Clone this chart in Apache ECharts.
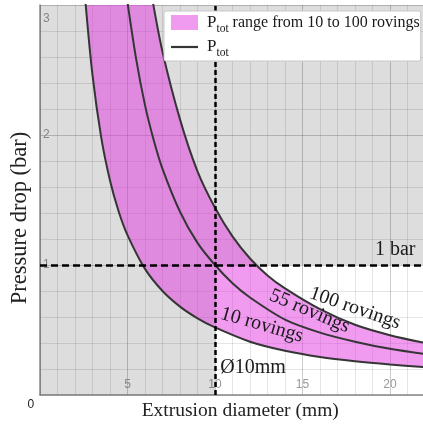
<!DOCTYPE html>
<html><head><meta charset="utf-8">
<script src="https://cdn.jsdelivr.net/npm/echarts@6/dist/echarts.min.js"></script>
<style>html,body{margin:0;padding:0;background:#fff}#c{width:423px;height:429px}</style>
</head><body><div id="c"></div>
<script>
// ---- data ----
const d10  = [2.6, 3, 3.5, 4, 4.5, 5, 6, 7, 8, 9, 10, 12, 14, 16, 18, 20, 22];
const p10  = [3.02, 2.46, 1.98, 1.65, 1.41, 1.23, 0.97, 0.80, 0.68, 0.59, 0.52, 0.41, 0.34, 0.292, 0.259, 0.234, 0.214];
const d55  = [5, 5.5, 6, 6.5, 7, 8, 9, 10, 11, 12, 14, 16, 18, 20, 22];
const p55  = [3.02, 2.58, 2.23, 1.96, 1.74, 1.41, 1.17, 1.0, 0.86, 0.75, 0.58, 0.48, 0.41, 0.355, 0.315];
const d100 = [6.4, 7, 8, 9, 10, 11, 12, 13, 14, 16, 18, 20, 22];
const p100 = [3.06, 2.64, 2.12, 1.72, 1.44, 1.22, 1.05, 0.92, 0.82, 0.66, 0.54, 0.46, 0.40];
const curveNames = ['10 rovings', '55 rovings', '100 rovings'];
const curveLabelAt = [[12.68, 0.538], [15.4, 0.645], [18.0, 0.667]];
const curveLabelRotate = [-16, -23, -19];
const limitDiameter = 10;   // Ø10mm
const limitPressure = 1;    // 1 bar
const xMin = 0, xMax = 25, xStep = 5;
const yMin = 0, yMax = 3, yStep = 1;
const legendBand = 'P_tot range from 10 to 100 rovings';
const legendLine = 'P_tot';

// ---- styles ----
const SERIF = 'Liberation Serif';
const SANS = 'Liberation Sans';
const bandColor = 'rgba(225,55,225,0.5)';
const curveColor = '#353535';
const shadeColor = 'rgba(0,0,0,0.135)';
const pxPerX = 17.5;

function zip(xs, ys) { return xs.map((x, i) => [x, ys[i]]); }

// same control-point rule as ECharts smooth lines
function smoothSeg(pts, s) {
  const n = pts.length, out = [], inn = [];
  for (let i = 0; i < n; i++) {
    const p = pts[i], prev = pts[Math.max(i - 1, 0)], next = pts[Math.min(i + 1, n - 1)];
    const vx = next[0] - prev[0], vy = next[1] - prev[1];
    const l0 = Math.hypot(p[0] - prev[0], p[1] - prev[1]);
    const l1 = Math.hypot(next[0] - p[0], next[1] - p[1]);
    const r = (l0 + l1) ? l1 / (l0 + l1) : 0.5;
    out[i] = [p[0] + vx * s * r, p[1] + vy * s * r];
    inn[i] = [p[0] - vx * s * (1 - r), p[1] - vy * s * (1 - r)];
  }
  let d = '';
  for (let i = 0; i < n - 1; i++) {
    d += 'C' + out[i].join(',') + ' ' + inn[i + 1].join(',') + ' ' + pts[i + 1].join(',');
  }
  return d;
}
const SM = 0.3;

const chart = echarts.init(document.getElementById('c'), null, { renderer: 'canvas' });

const curveData = [zip(d10, p10), zip(d55, p55), zip(d100, p100)];
const curveSeries = curveData.map((data, k) => ({
  type: 'line', name: legendLine, data: data, smooth: SM, symbol: 'none', showSymbol: false,
  z: 4, silent: true, clip: true,
  lineStyle: { color: curveColor, width: 2 },
  itemStyle: { color: curveColor },
  markPoint: {
    silent: true, symbol: 'circle', symbolSize: 1,
    itemStyle: { color: 'rgba(0,0,0,0)' },
    label: {
      show: true, position: 'inside', rotate: curveLabelRotate[k],
      fontFamily: SERIF, fontSize: 20, color: '#1a1a1a',
      formatter: () => curveNames[k]
    },
    data: [{ coord: curveLabelAt[k] }]
  }
}));

function richName(name) {
  const parts = name.split('_');
  const rest = parts[1].split(' ');
  const sub = rest.shift();
  const tail = rest.length ? ' ' + rest.join(' ') : '';
  return '{p|' + parts[0] + '}{s|' + sub + '}' + (tail ? '{t|' + tail + '}' : '');
}

const option = {
  animation: false,
  backgroundColor: '#fff',
  grid: {
    left: 40, right: 383 - (xMax - xMin) * pxPerX, top: 5, bottom: 34,
    containLabel: false, outerBoundsMode: 'none'
  },
  xAxis: {
    type: 'value', min: xMin, max: xMax, interval: xStep, z: 0,
    name: 'Extrusion diameter (mm)', nameLocation: 'middle', nameGap: 6,
    nameTextStyle: { fontFamily: SERIF, fontSize: 19.5, color: '#222', padding: [0, 37, 0, 0] },
    axisLine: { show: true, lineStyle: { color: '#888', width: 1.5 } },
    axisTick: { show: false },
    axisLabel: { inside: true, margin: 4, showMinLabel: false, fontFamily: SANS, fontSize: 12, color: '#9a9a9a' },
    splitLine: { show: true, lineStyle: { color: 'rgba(0,0,0,0.2)', width: 1 } },
    minorTick: { show: false, splitNumber: 5 },
    minorSplitLine: { show: true, lineStyle: { color: 'rgba(0,0,0,0.1)', width: 1 } }
  },
  yAxis: {
    type: 'value', min: yMin, max: yMax, interval: yStep, z: 0,
    name: 'Pressure drop (bar)', nameLocation: 'middle', nameRotate: 90, nameGap: 8,
    nameTextStyle: { fontFamily: SERIF, fontSize: 22.5, color: '#222', padding: [0, 36, 0, 0] },
    axisLine: { show: true, lineStyle: { color: '#888', width: 1.5 } },
    axisTick: { show: false },
    axisLabel: {
      inside: true, margin: 3, showMinLabel: false, align: 'left',
      fontFamily: SANS, fontSize: 12, color: '#9a9a9a',
      formatter: v => v === yMax ? '{top|' + v + '}' : String(v),
      rich: { top: { padding: [27, 0, 0, 0], fontFamily: SANS, fontSize: 12, color: '#9a9a9a' } }
    },
    splitLine: { show: true, lineStyle: { color: 'rgba(0,0,0,0.2)', width: 1 } },
    minorTick: { show: false, splitNumber: 5 },
    minorSplitLine: { show: true, lineStyle: { color: 'rgba(0,0,0,0.1)', width: 1 } }
  },
  legend: {
    orient: 'vertical', left: 164, top: 11, z: 10,
    backgroundColor: '#fff', borderColor: '#c8c8c8', borderWidth: 1, borderRadius: 2,
    padding: [3, 1, 2, 7], itemWidth: 27, itemHeight: 15, itemGap: 4,
    selectedMode: false,
    data: [
      { name: legendBand, icon: 'rect', itemStyle: { color: bandColor } },
      { name: legendLine, icon: 'path://M0,0H27V2.2H0Z', itemStyle: { color: curveColor } }
    ],
    formatter: name => richName(name),
    textStyle: {
      fontFamily: SERIF, fontSize: 16, color: '#1a1a1a', padding: [0, 0, 0, 4],
      rich: {
        p: { fontFamily: SERIF, fontSize: 17, color: '#1a1a1a' },
        s: { fontFamily: SERIF, fontSize: 11.5, color: '#1a1a1a', padding: [12, 0, 0, 0] },
        t: { fontFamily: SERIF, fontSize: 16, color: '#1a1a1a' }
      }
    }
  },
  graphic: [{
    type: 'text', left: 27.5, top: 399,
    style: { text: '0', font: '12px "Liberation Sans"', fill: '#222' }
  }],
  series: [
    {
      type: 'line', name: 'guides', data: [], z: 1, silent: true,
      markLine: {
        silent: true, symbol: ['none', 'none'], label: { show: false },
        lineStyle: { color: '#000', width: 2.5 },
        data: [
          { yAxis: limitPressure, lineStyle: { type: [7, 4], color: '#000', width: 2.5 } },
          { xAxis: limitDiameter, lineStyle: { type: [5, 3], color: '#000', width: 2.5 } }
        ]
      },
      markPoint: {
        silent: true, symbol: 'circle', symbolSize: 1, itemStyle: { color: 'rgba(0,0,0,0)' },
        label: { show: true, position: 'inside', fontFamily: SERIF, fontSize: 20, color: '#1a1a1a' },
        data: [
          { coord: [20.3, 1.115], label: { formatter: limitPressure + ' bar' } },
          { coord: [12.18, 0.21], label: { formatter: 'Ø' + limitDiameter + 'mm' } }
        ]
      }
    },
    {
      type: 'custom', name: legendBand, z: 2, clip: true, silent: true,
      itemStyle: { color: bandColor },
      data: [[0, 0]],
      renderItem: (params, api) => {
        const lo = d10.map((x, i) => api.coord([x, p10[i]]));
        const hi = d100.map((x, i) => api.coord([x, p100[i]])).reverse();
        const path = 'M' + lo[0].join(',') + smoothSeg(lo, SM) + 'L' + hi[0].join(',') + smoothSeg(hi, SM) + 'Z';
        const cs = params.coordSys;
        return {
          type: 'group',
          children: [{ type: 'path', shape: { pathData: path }, style: { fill: bandColor } }],
          clipPath: { type: 'rect', shape: { x: cs.x, y: cs.y, width: cs.width, height: cs.height } }
        };
      }
    },
    {
      type: 'line', name: 'shade', data: [], z: 3, silent: true,
      markArea: {
        silent: true, itemStyle: { color: shadeColor }, label: { show: false },
        data: [
          [{ coord: [xMin, limitPressure] }, { coord: [xMax, yMax] }],
          [{ coord: [xMin, yMin] }, { coord: [limitDiameter, limitPressure] }]
        ]
      }
    }
  ].concat(curveSeries)
};
chart.setOption(option);
</script>
</body></html>
